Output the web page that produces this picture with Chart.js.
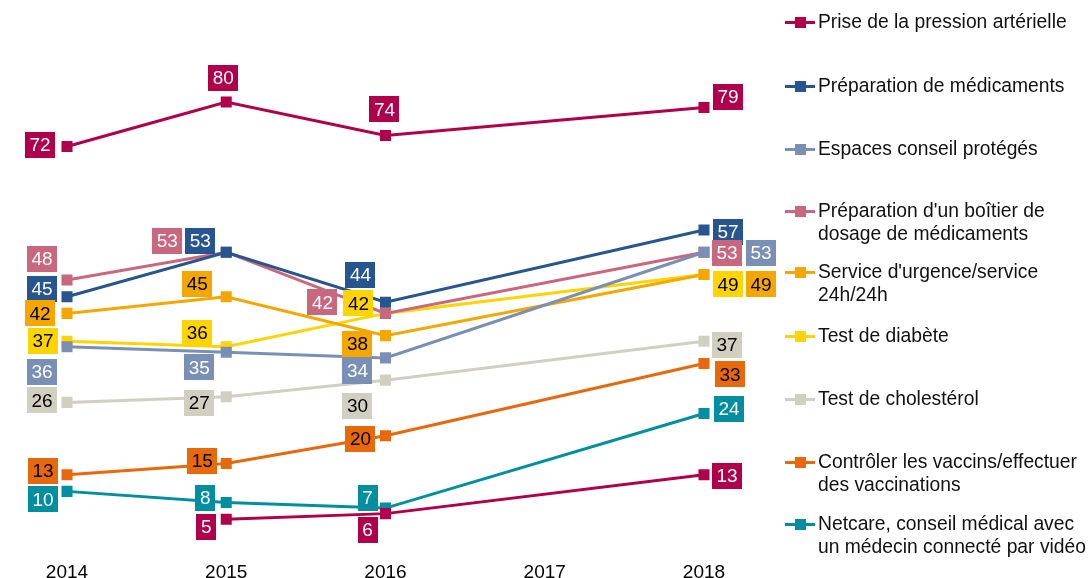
<!DOCTYPE html>
<html>
<head>
<meta charset="utf-8">
<script src="https://cdn.jsdelivr.net/npm/chart.js@4.4.0/dist/chart.umd.min.js"></script>
<style>
  html, body { margin: 0; padding: 0; background: #fff; overflow: hidden; }
  #wrap { position: relative; width: 1090px; height: 578px; overflow: hidden; }
  #myChart { position: absolute; left: 0; top: 0; }
  #legend { position: absolute; left: 785px; top: 0; font-family: Arial, "Liberation Sans", sans-serif; font-size: 19.3px; line-height: 22.8px; color: #111; }
  .item { position: absolute; left: 0; width: 305px; }
  .mk { position: absolute; left: 0; top: 10px; width: 30px; height: 3px; }
  .mk i { position: absolute; left: 10px; top: -4px; width: 11px; height: 11px; }
  .txt { position: absolute; left: 33px; top: 0; white-space: nowrap; }
</style>
</head>
<body>
<div id="wrap">
  <canvas id="myChart" width="1090" height="599"></canvas>
  <div id="legend"></div>
</div>
<script>
var years = ["2014", "2015", "2016", "2017", "2018"]

var names = [
  "Prise de la pression artérielle",
  "Préparation de médicaments",
  "Espaces conseil protégés",
  "Préparation d'un boîtier de\ndosage de médicaments",
  "Service d'urgence/service\n24h/24h",
  "Test de diabète",
  "Test de cholestérol",
  "Contrôler les vaccins/effectuer\ndes vaccinations",
  "Netcare, conseil médical avec\nun médecin connecté par vidéo",
  ""
]

var pression = [72, 80, 74, null, 79]
var preparation = [45, 53, 44, null, 57]
var espaces = [36, 35, 34, null, 53]
var boitier = [48, 53, 42, null, 53]
var urgence = [42, 45, 38, null, 49]
var diabete = [37, 36, 42, null, 49]
var cholesterol = [26, 27, 30, null, 37]
var vaccins = [13, 15, 20, null, 33]
var netcare = [10, 8, 7, null, 24]
var pression2 = [null, 5, 6, null, 13]

var values = [pression, preparation, espaces, boitier, urgence, diabete, cholesterol, vaccins, netcare, pression2]

var colors = ["#b0004b", "#27558f", "#7a8fb6", "#c9677f", "#f5a700", "#ffd400", "#d1d0c0", "#e8680c", "#008fa1", "#b0004b"]
var textColors = ["#fff", "#fff", "#fff", "#fff", "#000", "#000", "#000", "#000", "#fff", "#fff"]

// label box centre relative to the point
var offsets = [
  [[-27, -2], [-3, -24], [-1, -26], null, [24, -11]],
  [[-25, -8], [-26, -11], [-25, -27], null, [24, 2]],
  [[-25, 25], [-27, 15], [-28, 13], null, [57, 1]],
  [[-25, -21], [-59, -11], [-63, -11], null, [23, 1]],
  [[-27, 0], [-29, -13], [-28, 8], null, [57, 10]],
  [[-24, 0], [-29, -14], [-27, -10], null, [24, 10]],
  [[-25, -2], [-27, 6], [-28, 26], null, [23, 4]],
  [[-24, -4], [-24, -3], [-25, 3], null, [26, 11]],
  [[-24, 8], [-21, -5], [-18, -10], null, [25, -5]],
  [null, [-20, 8], [-18, 16], null, [23, 1]]
]
var legendTops = [11, 75, 138, 200, 261, 325, 388, 451, 513]

var datasets = []
values.forEach(function(v, i){
  datasets.push({
    label: names[i],
    data: v,
    borderColor: colors[i],
    backgroundColor: colors[i],
    borderWidth: 3,
    pointStyle: "rect",
    pointRadius: 7.8,
    pointHoverRadius: 7.8,
    pointBorderWidth: 0,
    spanGaps: true,
    tension: 0,
    order: i == 9 ? -1 : i
  })
})

var labelPlugin = {
  id: "boxLabels",
  afterDatasetsDraw: function(chart){
    var ctx = chart.ctx
    ctx.save()
    ctx.font = "19px Arial, 'Liberation Sans', sans-serif"
    ctx.textAlign = "center"
    ctx.textBaseline = "middle"
    chart.data.datasets.forEach(function(ds, i){
      var meta = chart.getDatasetMeta(i)
      meta.data.forEach(function(pt, j){
        var v = ds.data[j]
        var off = offsets[i][j]
        if (v === null || !off) return
        var txt = String(v)
        var w = ctx.measureText(txt).width + 9
        var h = 26
        var cx = pt.x + off[0]
        var cy = pt.y + off[1]
        ctx.fillStyle = colors[i]
        ctx.fillRect(Math.round(cx - w / 2), Math.round(cy - h / 2), Math.round(w), h)
        ctx.fillStyle = textColors[i]
        ctx.fillText(txt, cx, cy + 1)
      })
    })
    ctx.restore()
  }
}

var myChart = document.getElementById("myChart").getContext("2d")
var chart = new Chart(myChart, {
  type: "line",
  data: { labels: years, datasets: datasets },
  options: {
    responsive: false,
    animation: false,
    layout: { padding: { left: 67, right: 386, top: 46.4, bottom: 0 } },
    plugins: { legend: { display: false }, tooltip: { enabled: false } },
    scales: {
      x: {
        grid: { display: false, drawTicks: false },
        border: { display: false },
        ticks: { color: "#000", padding: 14.6, font: { family: "Arial, 'Liberation Sans', sans-serif", size: 19 } }
      },
      y: { display: false, min: 0, max: 90 }
    }
  },
  plugins: [labelPlugin]
})

var legend = document.getElementById("legend")
for (var k = 0; k < 9; k++) {
  var item = document.createElement("div")
  item.className = "item"
  item.style.top = legendTops[k] + "px"
  var mk = document.createElement("div")
  mk.className = "mk"
  mk.style.background = colors[k]
  var sq = document.createElement("i")
  sq.style.background = colors[k]
  mk.appendChild(sq)
  var txt = document.createElement("div")
  txt.className = "txt"
  txt.innerHTML = names[k].replace("\n", "<br>")
  item.appendChild(mk)
  item.appendChild(txt)
  legend.appendChild(item)
}
</script>
</body>
</html>
